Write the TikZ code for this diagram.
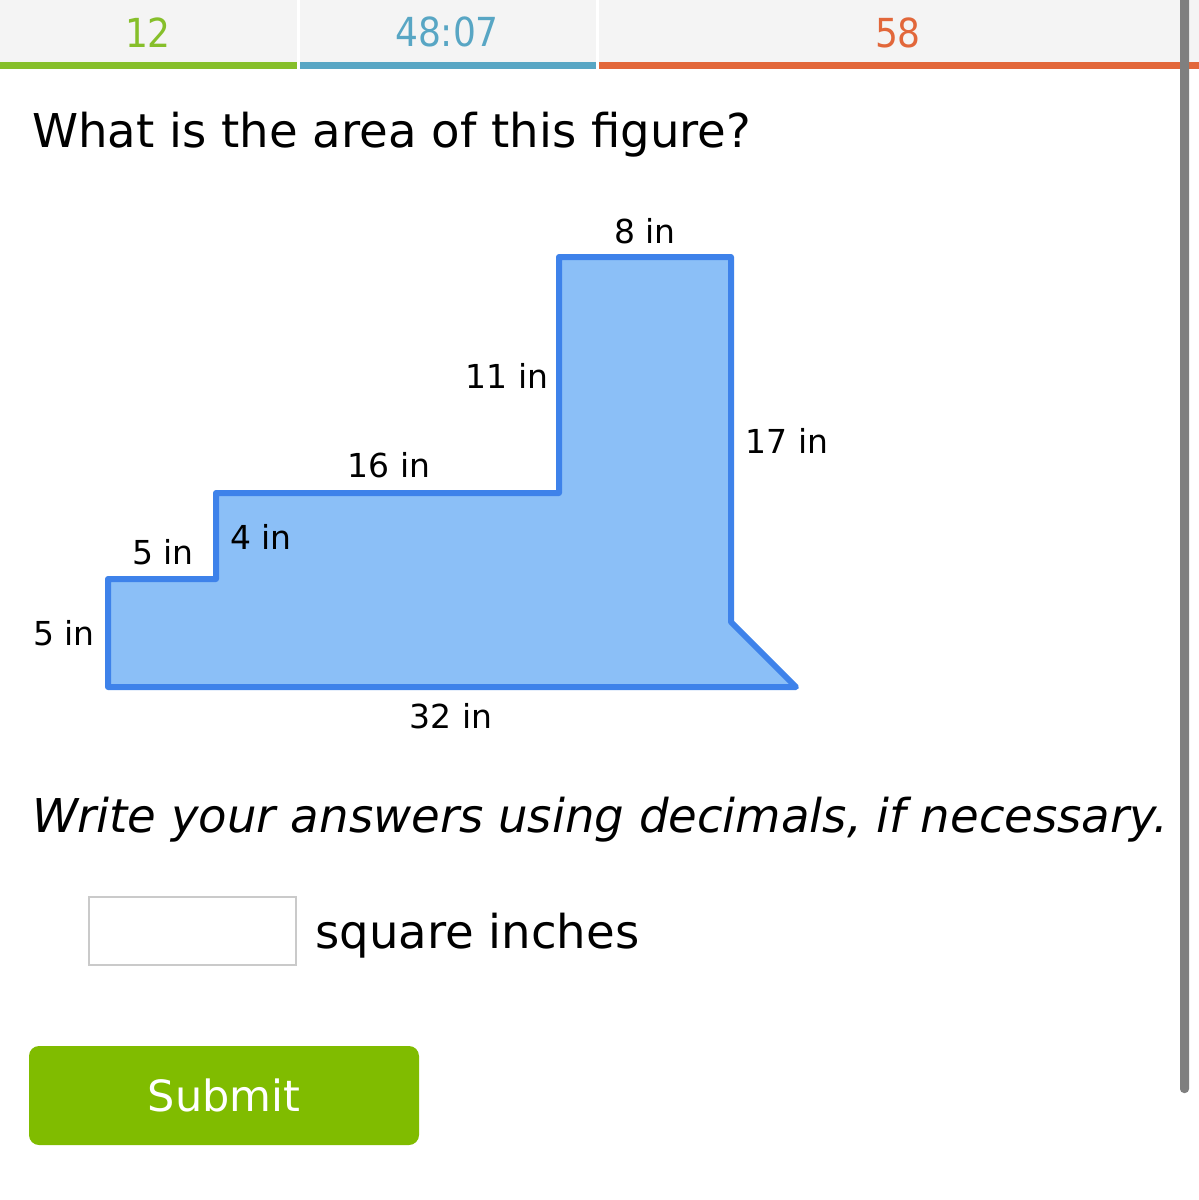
\documentclass[tikz,border=0pt]{standalone}
\usepackage{fontspec}
\setmainfont{DejaVu Sans}
\newfontfamily\headfont{DejaVu Sans Condensed}

\definecolor{headbg}{HTML}{F4F4F4}
\definecolor{scoregreen}{HTML}{86BF2A}
\definecolor{timeblue}{HTML}{58A6C4}
\definecolor{smartorange}{HTML}{E2673A}
\definecolor{figfill}{HTML}{8BBFF7}
\definecolor{figline}{HTML}{3E82EA}
\definecolor{boxgray}{HTML}{CACACA}
\definecolor{scrollgray}{HTML}{7F7F7F}
\definecolor{submitgreen}{HTML}{80BC00}

\begin{document}
\begin{tikzpicture}[x=1pt,y=-1pt,
    num/.style={anchor=base,inner sep=0pt,font=\headfont\fontsize{40}{46}\selectfont},
    lbl/.style={anchor=base,inner sep=0pt,font=\fontsize{33}{40}\selectfont},
    bigtext/.style={anchor=base west,inner sep=0pt,font=\fontsize{46.6}{55}\selectfont}]

    \useasboundingbox (0,0) rectangle (1199,1200);
    \fill[white] (0,0) rectangle (1199,1200);

    \fill[headbg] (0,0) rectangle (297,62);
    \fill[headbg] (300,0) rectangle (596,62);
    \fill[headbg] (599,0) rectangle (1199,62);
    \fill[scoregreen] (0,62) rectangle (297,69);
    \fill[timeblue] (300,62) rectangle (596,69);
    \fill[smartorange] (599,62) rectangle (1199,69);
    \node[num, text=scoregreen] (score) at (148,47) {12};
    \node[num, text=timeblue] (timer) at (447,46) {48:07};
    \node[num, text=smartorange] (smart) at (898,47) {58};
    \fill[scrollgray, rounded corners=4pt] (1180,-6) rectangle (1189,1093);

    \node[bigtext] (question) at (32,147) {What is the area of this figure?};

    \draw[line width=6pt, line join=round, draw=figline, fill=figfill]
        (108,687) -- (108,579) -- (216,579) -- (216,493) -- (559,493)
        -- (559,257) -- (731,257) -- (731,622) -- (796,687) -- cycle;

    \node[lbl] (top) at (645,243) {8 in};
    \node[lbl] (upper) at (507,388) {11 in};
    \node[lbl] (right) at (787,453) {17 in};
    \node[lbl] (middle) at (389,477) {16 in};
    \node[lbl] (step) at (261,549) {4 in};
    \node[lbl] (ledge) at (163,564) {5 in};
    \node[lbl] (left) at (64,645) {5 in};
    \node[lbl] (bottom) at (451,728) {32 in};

    \node[bigtext, font=\fontsize{46.6}{55}\selectfont\itshape] (hint) at (32,832)
        {Write your answers using decimals, if necessary.};

    \draw[boxgray, line width=2pt] (89,897) rectangle (296,965);
    \node[bigtext] (unit) at (315,948) {square inches};

    \fill[submitgreen, rounded corners=10pt] (29,1046) rectangle (419,1145);
    \node[anchor=base, inner sep=0pt, text=white, font=\fontsize{43}{52}\selectfont]
        (submit) at (224,1111) {Submit};
\end{tikzpicture}
\end{document}
